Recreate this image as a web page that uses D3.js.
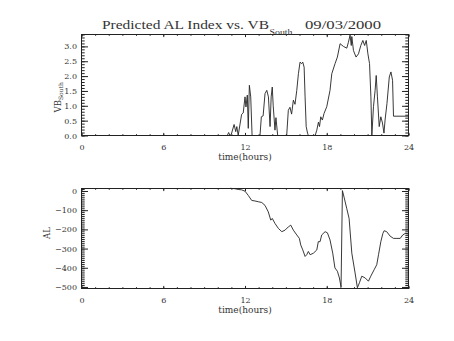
<!DOCTYPE html>
<html><head><meta charset="utf-8">
<script src="https://cdn.jsdelivr.net/npm/d3@7"></script>
<style>body{margin:0;background:#fff}svg{display:block}</style>
</head><body>
<svg id="chart" width="454" height="341"></svg>
<script>
// Southward IMF component (VB_South) by hour of day
const vbTime = [0, 10.7, 10.8, 10.9, 11.0, 11.2, 11.32, 11.4, 11.5, 11.75, 11.87, 12.0, 12.07, 12.17, 12.24, 12.32, 12.42, 12.52,
  13.1, 13.2, 13.33, 13.47, 13.6, 13.72, 13.84, 13.92, 14.0, 14.07, 14.2, 14.27, 14.4,
  15.06, 15.18, 15.3, 15.42, 15.55, 15.67, 15.8, 15.92, 16.04, 16.16, 16.24, 16.34, 16.41, 16.49, 16.59, 16.65,
  17.15, 17.27, 17.39, 17.47, 17.56, 17.68, 17.8, 18.0, 18.24, 18.37, 18.61, 18.78, 18.98, 19.22, 19.47, 19.59, 19.71, 19.8, 19.84, 19.96,
  20.15, 20.33, 20.5, 20.65, 20.78, 20.9, 21.02, 21.14, 21.24, 21.31, 21.43, 21.55, 21.63, 21.72, 21.85, 21.97, 22.09, 22.2, 22.28,
  22.42, 22.59, 22.71, 22.83, 22.9, 24.0];
const vbSouth = [0, 0, 0.1, 0, 0.05, 0.37, 0.13, 0.3, 0, 0.71, 0.76, 1.3, 0.96, 1.36, 0.24, 1.69, 1.3, 0,
  0, 0.63, 0.66, 1.41, 1.52, 1.3, 0.3, 1.3, 1.63, 1.0, 0.18, 0.6, 0,
  0, 0.85, 0.95, 0.72, 1.19, 1.05, 1.52, 2.08, 2.47, 2.42, 2.47, 2.3, 1.3, 0.3, 0.08, 0,
  0, 0.18, 0.45, 0.3, 0.63, 0.52, 0.74, 0.97, 1.52, 2.08, 2.42, 2.64, 3.09, 3.0, 2.94, 3.14, 3.38, 3.03, 3.33, 2.86,
  2.64, 2.75, 3.03, 3.2, 3.03, 3.2, 2.75, 2.42, 1.3, 0, 0.97, 1.52, 2.02, 1.3, 0.3, 0.63, 0.42, 0.08, 0.52,
  1.08, 1.97, 2.14, 1.86, 0.65, 0.65];

// Predicted AL index (nT) by hour of day
const alTime = [10.9, 11.26, 11.5, 11.75, 12.0, 12.24, 12.49, 12.73, 12.98, 13.23, 13.47, 13.71, 13.89, 14.0, 14.2, 14.45, 14.7, 14.94,
  15.18, 15.36, 15.55, 15.8, 15.99, 16.09, 16.24, 16.41, 16.53, 16.65, 16.78, 17.02, 17.27, 17.38, 17.51, 17.63, 17.88,
  18.05, 18.24, 18.44, 18.6, 18.78, 18.93, 19.05, 19.15, 19.27, 19.47, 19.64, 19.84, 20.08, 20.25, 20.4, 20.57, 20.82,
  21.06, 21.23, 21.48, 21.67, 21.8, 21.97, 22.12, 22.21, 22.4, 22.65, 22.9, 23.15, 23.39, 23.58, 23.76, 24.0];
const alIndex = [14, 12, 8, 6, -1, -23, -49, -52, -56, -60, -75, -109, -152, -143, -169, -195, -212, -204,
  -187, -178, -204, -229, -247, -281, -307, -341, -332, -315, -332, -324, -307, -264, -264, -229, -212,
  -218, -255, -324, -401, -418, -453, -500, 2, -32, -92, -143, -324, -427, -504, -478, -444, -453,
  -470, -444, -410, -384, -332, -264, -221, -207, -212, -235, -247, -247, -247, -229, -221, -224];

const hourTicks = [0, 6, 12, 18, 24];
const hourMinor = d3.range(0, 25, 1);
const vbTicks = [0, 0.5, 1.0, 1.5, 2.0, 2.5, 3.0];
const vbMinor = d3.range(0, 35).map(i => i / 10);
const alTicks = [0, -100, -200, -300, -400, -500];
const alMinor = d3.range(-500, 11, 10);

const svg = d3.select('#chart');
svg.append('rect').attr('width', 454).attr('height', 341).attr('fill', '#fff');

const ink = '#222';
const textInk = '#333';
const serif = 'DejaVu Serif';
const x = d3.scaleLinear().domain([0, 24]).range([81.5, 408.5]);
const yTop = d3.scaleLinear().domain([0, 3.4]).range([135.5, 34.5]);
const yBot = d3.scaleLinear().domain([-508, 13]).range([288.5, 188.5]);

function styleAxis(g) {
  g.select('.domain').remove();
  g.selectAll('line').attr('stroke', ink).attr('stroke-width', 1);
  g.selectAll('text').attr('fill', textInk);
  g.attr('font-family', serif).attr('font-size', 8);
}

function panel(y, majorY, minorY, fmtY, times, values) {
  const [yb, yt] = y.range();
  const [xl, xr] = x.range();
  const g = svg.append('g');

  // x axes (bottom with labels, top without)
  g.append('g').attr('transform', `translate(0,${yb})`)
    .call(d3.axisBottom(x).tickValues(hourMinor).tickSize(-1.3).tickFormat('')).call(styleAxis);
  g.append('g').attr('transform', `translate(0,${yb})`)
    .call(d3.axisBottom(x).tickValues(hourTicks).tickSize(-2.6).tickPadding(8.5).tickFormat(d3.format('d'))).call(styleAxis);
  g.append('g').attr('transform', `translate(0,${yt})`)
    .call(d3.axisTop(x).tickValues(hourMinor).tickSize(-1.3).tickFormat('')).call(styleAxis);
  g.append('g').attr('transform', `translate(0,${yt})`)
    .call(d3.axisTop(x).tickValues(hourTicks).tickSize(-2.6).tickFormat('')).call(styleAxis);

  // y axes (left with labels, right without)
  g.append('g').attr('transform', `translate(${xl},0)`)
    .call(d3.axisLeft(y).tickValues(minorY).tickSize(-3.2).tickFormat('')).call(styleAxis);
  g.append('g').attr('transform', `translate(${xl},0)`)
    .call(d3.axisLeft(y).tickValues(majorY).tickSize(-6.5).tickPadding(4.5).tickFormat(fmtY)).call(styleAxis);
  g.append('g').attr('transform', `translate(${xr},0)`)
    .call(d3.axisRight(y).tickValues(minorY).tickSize(-3.2).tickFormat('')).call(styleAxis);
  g.append('g').attr('transform', `translate(${xr},0)`)
    .call(d3.axisRight(y).tickValues(majorY).tickSize(-6.5).tickFormat('')).call(styleAxis);

  // frame
  g.append('rect').attr('x', xl).attr('y', yt).attr('width', xr - xl).attr('height', yb - yt)
    .attr('fill', 'none').attr('stroke', ink).attr('stroke-width', 1);

  // data line
  const line = d3.line().x((d, i) => x(times[i])).y(d => y(d));
  g.append('path').datum(values).attr('d', line)
    .attr('fill', 'none').attr('stroke', ink).attr('stroke-width', 0.9).attr('stroke-linejoin', 'round');

  // x title
  g.append('text').attr('x', (xl + xr) / 2).attr('y', yb + 24.5).attr('text-anchor', 'middle')
    .attr('font-family', serif).attr('font-size', 9).attr('fill', textInk).text('time(hours)');
}

panel(yTop, vbTicks, vbMinor, d3.format('.1f'), vbTime, vbSouth);
panel(yBot, alTicks, alMinor, d => (d < 0 ? '\u2212' + Math.abs(d) : String(d)), alTime, alIndex);

// main title
const title = svg.append('g').attr('font-family', 'Liberation Serif').attr('fill', textInk);
title.append('text').attr('x', 102).attr('y', 29.3).attr('font-size', 13)
  .attr('textLength', 167).attr('lengthAdjust', 'spacingAndGlyphs').text('Predicted AL Index vs. VB');
title.append('text').attr('x', 269.5).attr('y', 35).attr('font-size', 7.5)
  .attr('textLength', 23).attr('lengthAdjust', 'spacingAndGlyphs').text('South');
title.append('text').attr('x', 305).attr('y', 29.3).attr('font-size', 13)
  .attr('textLength', 76).attr('lengthAdjust', 'spacingAndGlyphs').text('09/03/2000');

// y titles
const vbLabel = svg.append('text').attr('transform', 'translate(60.5,112.5) rotate(-90)')
  .attr('font-family', serif).attr('font-size', 8.5).attr('fill', textInk);
vbLabel.append('tspan').text('VB');
vbLabel.append('tspan').attr('dy', 2.5).attr('font-size', 6).text('South');

svg.append('text').attr('transform', 'translate(49.5,233) rotate(-90)').attr('text-anchor', 'middle')
  .attr('font-family', serif).attr('font-size', 8.5).attr('fill', textInk).text('AL');
</script>
</body></html>
